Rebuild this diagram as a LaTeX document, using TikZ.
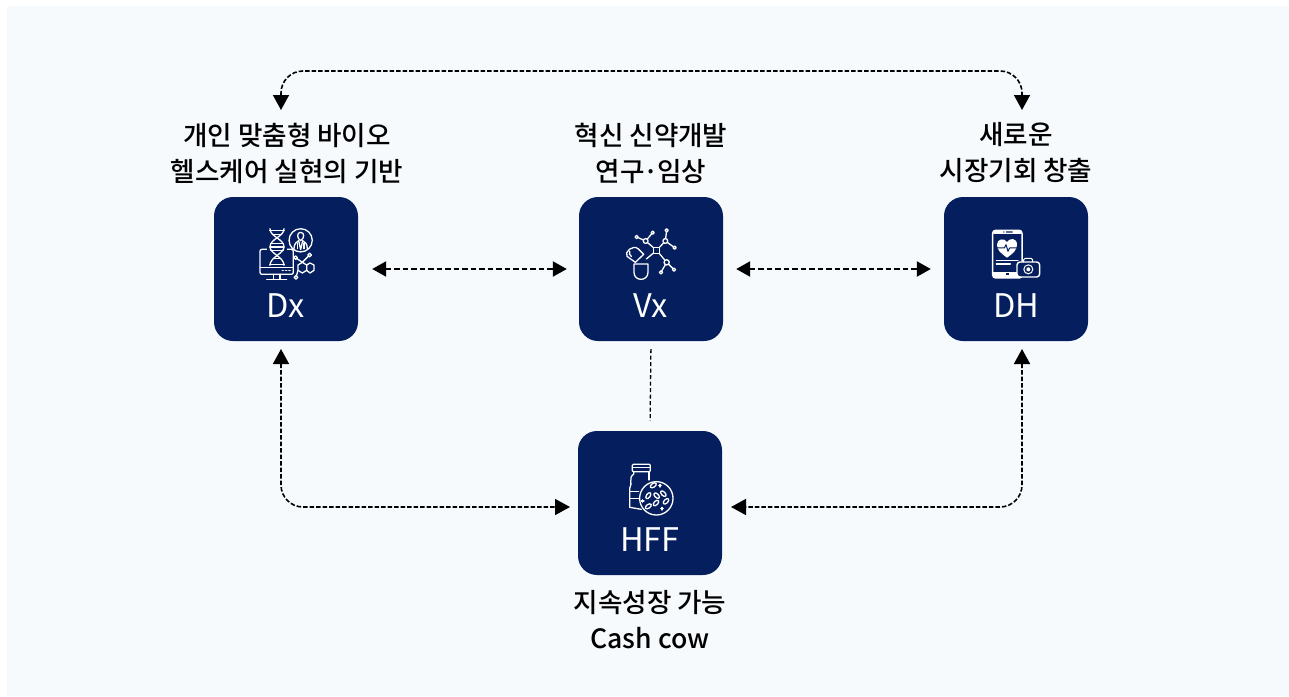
\documentclass[tikz,border=0pt]{standalone}
\usepackage{fontspec}
\newfontfamily\kr{Noto Sans CJK KR Medium}
\newfontfamily\krl{Noto Sans CJK KR}
\usetikzlibrary{arrows.meta}
\definecolor{navy}{HTML}{051F5E}
\definecolor{bgc}{HTML}{F6FAFD}
\tikzset{
  box/.style={fill=navy,draw=none,rounded corners=19pt,minimum width=144pt,minimum height=144pt,inner sep=0pt},
  captext/.style={align=center,font=\kr\fontsize{26.6}{36}\selectfont,text=black,inner sep=0pt},
  boxlabel/.style={font=\krl\fontsize{32.5}{32.5}\selectfont,text=white,inner sep=0pt},
  thickdash/.style={draw=black,line width=2.3pt,dash pattern=on 5.5pt off 3pt,{Triangle[length=14pt,width=15pt]}-{Triangle[length=14pt,width=15pt]}},
  thindash/.style={draw=black,line width=1.6pt,dash pattern=on 4.5pt off 2pt,rounded corners=22pt,{Triangle[length=15pt,width=16pt]}-{Triangle[length=15pt,width=16pt]}},
  sepdash/.style={draw=black,line width=1.3pt,dash pattern=on 4pt off 2.5pt},
  ic/.style={draw=white,line width=1.3pt,line cap=round,line join=round},
  icf/.style={draw=white,fill=navy,line width=1.3pt,line join=round},
  zoomed/.style={x=0.3333pt,y=-0.3333pt}
}
\begin{document}
\begin{tikzpicture}[x=1pt,y=-1pt]
\useasboundingbox (0,0) rectangle (1289,696);
\fill[white] (0,0) rectangle (1289,696);
\fill[bgc] (7,6) rectangle (1289,696);
% boxes
\node[box] (dx) at (286,269) {};
\node[box] (vx) at (651,269) {};
\node[box] (dh) at (1016,269) {};
\node[box] (hff) at (650,503) {};
% box labels
\node[boxlabel] (dxl) at (286,306) {Dx};
\node[boxlabel] (vxl) at (651,306) {Vx};
\node[boxlabel] (dhl) at (1016,306) {DH};
\node[boxlabel] (hffl) at (650,540) {HFF};
% captions
\node[captext] (c1) at (287,153) {개인 맞춤형 바이오\\헬스케어 실현의 기반};
\node[captext] (c2) at (651,153) {혁신 신약개발\\연구\kern-.05em·\kern-.05em임상};
\node[captext] (c3) at (1016,153) {새로운\\시장기회 창출};
\node[captext] (c4) at (650,620) {지속성장 가능\\Cash cow};
% anchors of free ends
\coordinate (dxtop) at (281,110);
\coordinate (dhtop) at (1022,110);
\coordinate (dxbot) at (281,349);
\coordinate (dhbot) at (1022,349);
\coordinate (hfl) at (570,507);
\coordinate (hfr) at (731,507);
% connectors
\draw[thickdash,shorten <=14pt,shorten >=12pt] (dx.east) -- (vx.west);
\draw[thickdash,shorten <=13pt,shorten >=13pt] (vx.east) -- (dh.west);
\draw[sepdash,shorten <=8pt,shorten >=10pt] (vx.south) -- (hff.north);
\path[thindash,draw] (dxtop) -- (dxtop |- 0,71) -- (dhtop |- 0,71) -- (dhtop);
\path[thindash,draw] (dxbot) -- (dxbot |- hfl) -- (hfl);
\path[thindash,draw] (dhbot) -- (dhbot |- hfr) -- (hfr);
% Dx icon
\begin{scope}[shift={(214,197)},zoomed]
 \draw[ic,rounded corners=2pt] (138,157) rectangle (238,232);
 \draw[ic] (138,212) -- (238,212);
 \draw[ic] (178,232) -- (178,247) (198,232) -- (198,247) (158,248) -- (218,248);
 \draw[ic,line width=1.6pt] (205,220) -- (208,220) (215,220) -- (218,220) (225,220) -- (228,220);
 \fill[navy] (160,135) rectangle (218,205);
 \draw[ic] (168,95) .. controls (168,120) and (210,125) .. (210,150) .. controls (210,170) and (168,180) .. (168,205);
 \draw[ic] (210,95) .. controls (210,120) and (168,125) .. (168,150) .. controls (168,170) and (210,180) .. (210,205);
 \draw[ic] (167,100) -- (211,100) (178,113) -- (200,113) (170,140) -- (208,140) (168,150) -- (210,150) (170,160) -- (208,160) (178,185) -- (200,185) (167,202) -- (211,202);
 \draw[ic] (260,130) circle (11.6pt);
 \draw[ic] (260,106) .. controls (248,106) and (248,124) .. (260,131) .. controls (272,124) and (272,106) .. (260,106);
 \draw[ic] (240,155) .. controls (240,140) and (248,134) .. (254,131) -- (260,158) -- (266,131) .. controls (272,134) and (280,140) .. (280,155);
 \draw[ic] (250,138) -- (250,155) (270,138) -- (270,155);
 \draw[ic] (265,196) -- (278,204) -- (278,220) -- (265,228) -- (252,220) -- (252,204) -- cycle;
 \draw[ic] (278,204) -- (288,198) -- (300,204) -- (300,220) -- (288,228) -- (278,220);
 \draw[ic] (252,220) -- (246,241) (265,196) -- (245,182) (265,196) -- (287,174);
 \draw[icf] (246,241) circle (1.8pt) (245,182) circle (1.8pt) (287,174) circle (1.8pt);
\end{scope}
% Vx icon
\begin{scope}[shift={(578,197)},zoomed]
 \draw[ic] (236,160) -- (203,132) (203,132) -- (176,120) (203,132) -- (224,107);
 \draw[ic] (236,160) -- (262,132) (262,132) -- (266,100) (262,132) -- (290,152);
 \draw[ic] (236,160) -- (266,196) (266,196) -- (249,226) (266,196) -- (288,218);
 \draw[ic] (236,160) -- (205,186);
 \draw[icf] (227,151) rectangle (245,169);
 \draw[icf] (203,132) circle (2.4pt) (262,132) circle (2.4pt) (266,196) circle (2.6pt);
 \draw[icf] (176,120) circle (1.6pt) (224,107) circle (1.6pt) (266,100) circle (1.6pt) (290,152) circle (1.6pt) (249,226) circle (1.6pt) (288,218) circle (1.6pt);
 \draw[ic] (168,201) -- (210,201) -- (210,226) .. controls (210,254) and (168,254) .. (168,226) -- cycle;
 \draw[ic] (172,196) -- (197,172) -- (180,155) .. controls (165,142) and (138,165) .. (147,178) -- cycle;
 \draw[ic] (155,163) .. controls (153,170) and (155,175) .. (160,178);
\end{scope}
% DH icon
\begin{scope}[shift={(942,197)},zoomed]
 \draw[ic,line width=1.5pt,rounded corners=3pt] (152,100) rectangle (240,243);
 \fill[white,rounded corners=2pt] (152,100) rectangle (240,111);
 \fill[navy] (184,103) rectangle (187,107) (192,103) rectangle (212,107);
 \fill[white] (152,226) rectangle (240,243);
 \fill[navy] (191,229) rectangle (202,235);
 \fill[white] (195,182) .. controls (175,168) and (165,158) .. (165,143) .. controls (165,125) and (187,122) .. (195,135) .. controls (203,122) and (225,122) .. (225,143) .. controls (225,158) and (215,168) .. (195,182) -- cycle;
 \draw[navy,line width=1pt,line join=round] (165,153) -- (187,153) -- (192,143) -- (198,163) -- (203,153) -- (225,153);
 \draw[ic] (163,190) -- (228,190) (163,201) -- (205,201);
 \draw[icf,line width=1.4pt,rounded corners=3pt] (225,195) rectangle (293,240);
 \draw[ic,rounded corners=1.5pt,line width=1pt] (245,195) -- (245,184) -- (272,184) -- (272,195);
 \draw[ic,line width=1pt] (259,217) circle (4.5pt);
 \fill[white] (259,217) circle (2pt);
\end{scope}
% HFF icon
\begin{scope}[shift={(578,430)},zoomed]
 \draw[ic,rounded corners=1pt] (163,103) rectangle (217,125);
 \draw[ic] (163,113) -- (217,113);
 \draw[ic] (167,125) -- (167,132) .. controls (150,145) and (165,160) .. (155,175) -- (155,232) -- (190,238);
 \draw[ic] (213,125) -- (213,150);
 \draw[ic] (155,185) -- (182,185) (155,205) -- (185,205);
 \draw[icf] (235,205) circle (16.7pt);
 \foreach \a/\b/\c in {226/166/35,211/197/55,236/197/-45,256/191/-45,264/214/45,234/219/45,211/229/35}{
   \draw[ic,rotate around={\c:(\a,\b)}] (\a,\b) ellipse (3.4pt and 1.9pt);
 }
 \foreach \a/\b in {246/167,194/213,252/236}{
   \draw[ic] (\a-4,\b) -- (\a+4,\b) (\a,\b-4) -- (\a,\b+4);
 }
\end{scope}
\end{tikzpicture}
\end{document}
